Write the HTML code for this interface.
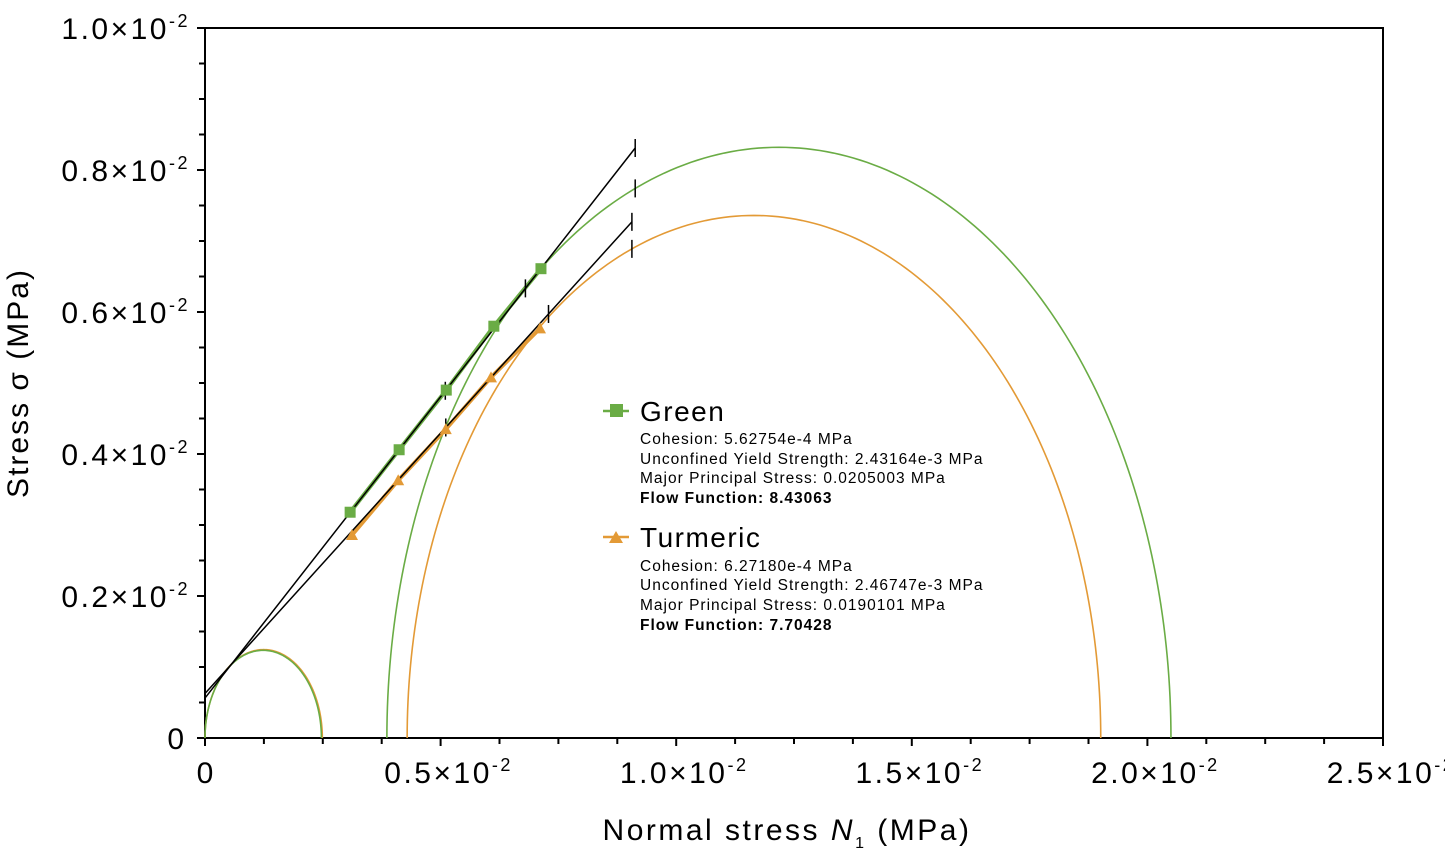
<!DOCTYPE html>
<html><head><meta charset="utf-8"><style>
html,body{margin:0;padding:0;background:#fff;}
svg{display:block;font-family:"Liberation Sans","DejaVu Sans",sans-serif;}
.det{font-size:15.5px;letter-spacing:1px;}
.ttl{font-size:28px;letter-spacing:1.5px;}
</style></head><body>
<svg id="chart" width="1445" height="862" viewBox="0 0 1445 862" xmlns="http://www.w3.org/2000/svg">
<rect x="205" y="28" width="1178" height="710" fill="none" stroke="#000" stroke-width="2"/>
<g id="axes"></g>
<g id="marks"></g>
<text transform="translate(28,383) rotate(-90)" text-anchor="middle" font-size="30" letter-spacing="2">Stress σ (MPa)</text>
<text x="787" y="840" text-anchor="middle" font-size="30" letter-spacing="2.5">Normal stress <tspan font-style="italic">N</tspan><tspan font-size="16" dy="8">1</tspan><tspan dy="-8"> (MPa)</tspan></text>
<g>
 <g>
  <line x1="603" y1="411" x2="629" y2="411" stroke="#6aac45" stroke-width="2.5"/>
  <rect x="610" y="404" width="13" height="13" fill="#6aac45"/>
  <text x="640" y="421" class="ttl">Green</text>
  <text x="640" y="444" class="det">Cohesion: 5.62754e-4 MPa</text>
  <text x="640" y="464" class="det">Unconfined Yield Strength: 2.43164e-3 MPa</text>
  <text x="640" y="483" class="det">Major Principal Stress: 0.0205003 MPa</text>
  <text x="640" y="503" class="det" font-weight="bold">Flow Function: 8.43063</text>
 </g>
 <g>
  <line x1="603" y1="537" x2="629" y2="537" stroke="#e39a36" stroke-width="2.5"/>
  <polygon points="609,543 616,531 623,543" fill="#e39a36"/>
  <text x="640" y="547" class="ttl">Turmeric</text>
  <text x="640" y="571" class="det">Cohesion: 6.27180e-4 MPa</text>
  <text x="640" y="590" class="det">Unconfined Yield Strength: 2.46747e-3 MPa</text>
  <text x="640" y="610" class="det">Major Principal Stress: 0.0190101 MPa</text>
  <text x="640" y="630" class="det" font-weight="bold">Flow Function: 7.70428</text>
 </g>
</g>
</svg>
<script>
// values in units of 1e-2 MPa
const xTicks = [0, 0.5, 1.0, 1.5, 2.0, 2.5];
const yTicks = [0, 0.2, 0.4, 0.6, 0.8, 1.0];
const series = ["green", "turmeric"];
const greenX = [0.308, 0.412, 0.512, 0.613, 0.713];
const greenY = [0.318, 0.406, 0.490, 0.580, 0.661];
const turmericX = [0.312, 0.410, 0.511, 0.607, 0.711];
const turmericY = [0.286, 0.363, 0.435, 0.508, 0.577];
const greenCohesion = 0.0563;
const turmericCohesion = 0.0627;
const greenLineEnd = [0.913, 0.831];
const turmericLineEnd = [0.906, 0.727];
const greenBigCircle = [0.386, 2.050];
const turmericBigCircle = [0.429, 1.901];
const greenSmallCircle = [0, 0.247];
const turmericSmallCircle = [0, 0.249];
const greenLineTicks = [0.51, 0.68, 0.913];
const turmericLineTicks = [0.511, 0.729, 0.906];

const NS = "http://www.w3.org/2000/svg";
const X0 = 205, X1 = 1383, Y0 = 738, Y1 = 28;
const xs = v => X0 + v / 2.5 * (X1 - X0);
const ys = v => Y0 - v / 1.0 * (Y0 - Y1);
const axes = document.getElementById("axes");
const marks = document.getElementById("marks");
function mk(tag, attrs, parent) {
  const e = document.createElementNS(NS, tag);
  for (const k in attrs) e.setAttribute(k, attrs[k]);
  parent.appendChild(e);
  return e;
}
function tickLabel(v, parent, x, y, anchor) {
  const t = mk("text", {x: x, y: y, "text-anchor": anchor, "font-size": "30", "letter-spacing": "2.5"}, parent);
  if (v === 0) { t.textContent = "0"; t.setAttribute("letter-spacing", "0"); return t; }
  const a = document.createElementNS(NS, "tspan"); a.textContent = v.toFixed(1) + "×10"; t.appendChild(a);
  const b = document.createElementNS(NS, "tspan"); b.setAttribute("font-size", "18"); b.setAttribute("dy", "-12"); b.textContent = "-2"; t.appendChild(b);
  return t;
}
for (let i = 0; i <= 20; i++) {
  const v = i * 0.125;
  const major = i % 4 === 0;
  const l = mk("line", {x1: xs(v), x2: xs(v), y1: Y0, y2: Y0 + (major ? 8 : 6), stroke: "#000", "stroke-width": 2}, axes);
  
  
}
xTicks.forEach(v => {
  const t = tickLabel(v, axes, xs(v) + (v === 0 ? 0 : 8), 783, "middle");
  
  
});
for (let i = 0; i <= 20; i++) {
  const v = i * 0.05;
  const major = i % 4 === 0;
  const l = mk("line", {x1: X0 - (major ? 8 : 6), x2: X0, y1: ys(v), y2: ys(v), stroke: "#000", "stroke-width": 2}, axes);
  
  
}
yTicks.forEach(v => {
  const t = tickLabel(v, axes, v === 0 ? 184 : 190, ys(v) + 11, "end");
  
  
});
function circle(range, color, name) {
  const c = (range[0] + range[1]) / 2, r = (range[1] - range[0]) / 2;
  let d = "";
  for (let i = 0; i <= 180; i++) {
    const a = Math.PI - i * Math.PI / 180;
    d += (i ? "L" : "M") + xs(c + r * Math.cos(a)).toFixed(2) + "," + ys(r * Math.sin(a)).toFixed(2);
  }
  const p = mk("path", {d: d, fill: "none", stroke: color, "stroke-width": 1.6}, marks);
  
  
}
circle(turmericSmallCircle, "#e39a36", "turmeric-small-circle");
circle(greenSmallCircle, "#6aac45", "green-small-circle");
circle(greenBigCircle, "#6aac45", "green-big-circle");
circle(turmericBigCircle, "#e39a36", "turmeric-big-circle");
function seriesLine(X, Y, color, name) {
  const pts = X.map((x, i) => xs(x) + "," + ys(Y[i])).join(" ");
  const p = mk("polyline", {points: pts, fill: "none", stroke: color, "stroke-width": 4}, marks);
  
  
}
seriesLine(greenX, greenY, "#6aac45", "green-series-line");
seriesLine(turmericX, turmericY, "#e39a36", "turmeric-series-line");
function yieldLocus(c, end, ticks, name) {
  const l = mk("line", {x1: xs(0), y1: ys(c), x2: xs(end[0]), y2: ys(end[1]), stroke: "#000", "stroke-width": 1.5}, marks);
  
  
  const slope = (end[1] - c) / end[0];
  ticks.forEach(t => {
    const y = ys(c + slope * t);
    const m = mk("line", {x1: xs(t), x2: xs(t), y1: y - 9, y2: y + 9, stroke: "#000", "stroke-width": 1.5}, marks);
    
    
  });
}
yieldLocus(greenCohesion, greenLineEnd, greenLineTicks, "green-yield-locus");
yieldLocus(turmericCohesion, turmericLineEnd, turmericLineTicks, "turmeric-yield-locus");
function circleTick(range, x, name) {
  const c = (range[0] + range[1]) / 2, r = (range[1] - range[0]) / 2;
  const y = ys(Math.sqrt(Math.max(0, r * r - (x - c) * (x - c))));
  const m = mk("line", {x1: xs(x), x2: xs(x), y1: y - 9, y2: y + 9, stroke: "#000", "stroke-width": 1.5}, marks);
  
  
}
circleTick(greenBigCircle, greenLineEnd[0], "green-circle-tick");
circleTick(turmericBigCircle, turmericLineEnd[0], "turmeric-circle-tick");
greenX.forEach((x, i) => {
  const r = mk("rect", {x: xs(x) - 5.5, y: ys(greenY[i]) - 5.5, width: 11, height: 11, fill: "#6aac45"}, marks);
  
  
});
turmericX.forEach((x, i) => {
  const cx = xs(x), cy = ys(turmericY[i]);
  const p = mk("polygon", {points: `${cx-6},${cy+5} ${cx},${cy-6} ${cx+6},${cy+5}`, fill: "#e39a36"}, marks);
  
  
});
</script>
</body></html>
